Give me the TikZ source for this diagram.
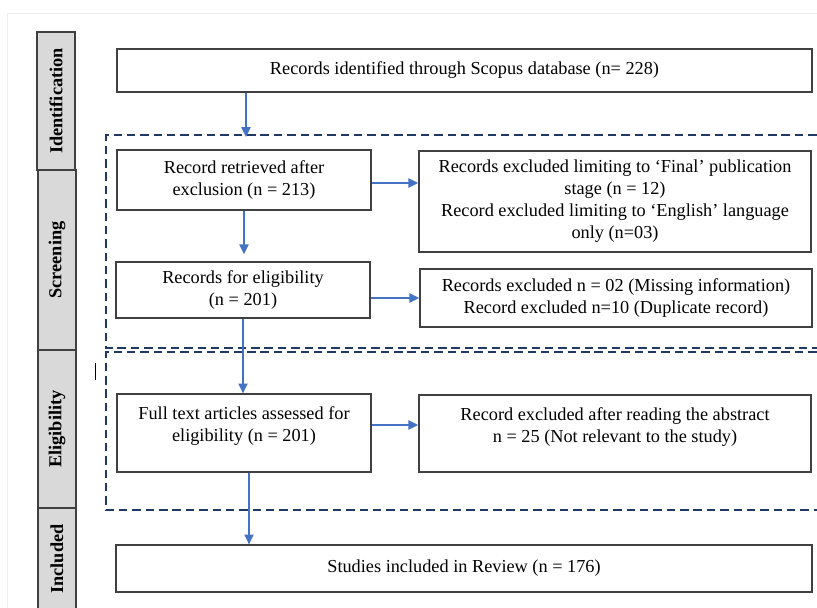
\documentclass[tikz,border=0pt]{standalone}
\usepackage{fontspec}
\setmainfont{Liberation Serif}
\usetikzlibrary{arrows.meta}
\definecolor{boxgray}{HTML}{404040}
\definecolor{tabgray}{HTML}{D9D9D9}
\definecolor{flowblue}{HTML}{4472C4}
\definecolor{phasenavy}{HTML}{1F3864}

\begin{document}
\begin{tikzpicture}[x=0.025cm, y=-0.025cm,
      box/.style={draw=boxgray, line width=0.9pt, align=center, inner sep=1pt,
        font=\fontsize{13}{15.6}\selectfont},
      tab/.style={draw=boxgray, fill=tabgray, line width=1pt, rotate=90,
        minimum height=0.95cm, inner sep=0pt,
        font=\bfseries\fontsize{13}{15}\selectfont},
      flow/.style={draw=flowblue, line width=1.1pt,
        -{Triangle[length=7pt,width=6.5pt]}},
      phase/.style={draw=phasenavy, line width=1.1pt, dash pattern=on 6pt off 3.5pt}
    ]
      \useasboundingbox (0,0) rectangle (817,607);
      % \draw[help lines] (0,0) grid[step=2cm] (817,607);
      \draw[gray!12, line width=0.6pt] (7,640) |- (840,13);

      \node[tab, minimum width=3.45cm] (identification) at (56,101) {Identification};
      \node[tab, minimum width=4.5cm] (screening) at (57,260) {Screening};
      \node[tab, minimum width=3.95cm] (eligibility) at (57,429) {Eligibility};
      \node[tab, minimum width=2.55cm] (included) at (57,559) {Included};

      \draw[phase] (830,135) -| (106,348) -- (830,348);
      \draw[phase] (830,352) -| (106,510) -- (830,510);
      \draw[black, line width=0.6pt] (95,363) -- (95,380);

      \node[box, minimum width=17.375cm, minimum height=1.075cm] (ident) at (464.5,70.5)
        {Records identified through Scopus database (n= 228)};
      \node[box, minimum width=6.35cm, minimum height=1.5cm] (retrieved) at (244,180)
        {Record retrieved after\\exclusion (n = 213)};
      \node[box, minimum width=9.8cm, minimum height=2.525cm] (langexcl) at (615,201.5)
        {Records excluded limiting to ‘Final’ publication\\stage (n = 12)\\Record excluded limiting to ‘English’ language\\only (n=03)};
      \node[box, minimum width=6.35cm, minimum height=1.4cm] (screened) at (243,290)
        {Records for eligibility\\(n = 201)};
      \node[box, minimum width=9.8cm, minimum height=1.45cm] (dupexcl) at (616,298)
        {Records excluded n = 02 (Missing information)\\Record excluded n=10 (Duplicate record)};
      \node[box, minimum width=6.35cm, minimum height=1.95cm, text depth=12.5pt] (fulltext) at (244,433)
        {Full text articles assessed for\\eligibility (n = 201)};
      \node[box, minimum width=9.8cm, minimum height=1.925cm, text depth=12.5pt] (absexcl) at (615,433.5)
        {Record excluded after reading the abstract\\n = 25 (Not relevant to the study)};
      \node[box, minimum width=17.4cm, minimum height=1.175cm] (studies) at (464,568.5)
        {Studies included in Review (n = 176)};

      \coordinate (screentop) at (246,137);
      \draw[flow] (ident.south -| screentop) -- (screentop);
      \draw[flow] ([yshift=-0.075cm]retrieved.east) -- ([yshift=-0.075cm]retrieved.east -| langexcl.west);
      \draw[flow, shorten >=5pt] (retrieved.south) -- (screened.north -| retrieved.south);
      \draw[flow] (dupexcl.west -| screened.east) -- (dupexcl.west);
      \draw[flow] (screened.south) -- (fulltext.north -| screened.south);
      \draw[flow] ([yshift=0.2cm]fulltext.east) -- ([yshift=0.2cm]fulltext.east -| absexcl.west);
      \draw[flow] ([xshift=0.125cm]fulltext.south) -- ([xshift=0.125cm]fulltext.south |- studies.north);
    \end{tikzpicture}
\end{document}
